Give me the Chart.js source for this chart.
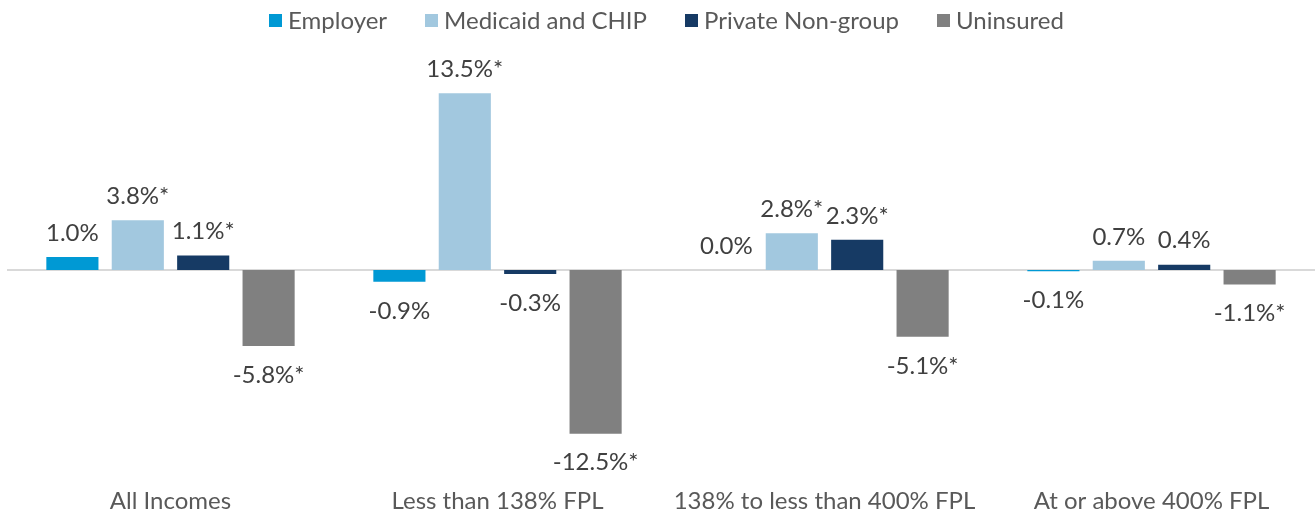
<!DOCTYPE html>
<html>
<head>
<meta charset="utf-8">
<script src="https://cdn.jsdelivr.net/npm/chart.js@4"></script>
<style>
  html, body { margin: 0; padding: 0; background: #fff; }
  #wrap { position: relative; width: 1315px; height: 512px; }
  #legend {
    position: absolute; top: 6px; left: 0; width: 1315px;
    display: flex; justify-content: center; gap: 38px;
    font-family: Lato, sans-serif; font-size: 24px; color: #595959;
    line-height: 28px; padding-left: 18px; box-sizing: border-box;
  }
  #legend span.item { display: flex; align-items: center; }
  #legend span.box { width: 13px; height: 13px; margin-right: 6px; display: inline-block; }
</style>
</head>
<body>
<div id="wrap">
  <div id="legend"></div>
  <canvas id="chart"></canvas>
</div>
<script>
// Data
const categories = ['All Incomes', 'Less than 138% FPL', '138% to less than 400% FPL', 'At or above 400% FPL'];
const seriesNames = ['Employer', 'Medicaid and CHIP', 'Private Non-group', 'Uninsured'];
const employer = [1.0, -0.9, 0.0, -0.1];
const medicaid = [3.8, 13.5, 2.8, 0.7];
const privateNonGroup = [1.1, -0.3, 2.3, 0.4];
const uninsured = [-5.8, -12.5, -5.1, -1.1];
// significance stars per series
const employerSig = [false, false, false, false];
const medicaidSig = [true, true, true, false];
const privateSig = [true, false, true, false];
const uninsuredSig = [true, true, true, true];

const colors = ['#0099d4', '#a2c8df', '#163a64', '#808080'];
const allValues = [employer, medicaid, privateNonGroup, uninsured];
const allSig = [employerSig, medicaidSig, privateSig, uninsuredSig];

// legend
const legendEl = document.getElementById('legend');
seriesNames.forEach((name, i) => {
  const item = document.createElement('span');
  item.className = 'item';
  item.innerHTML = `<span class="box" style="background:${colors[i]}"></span>${name}`;
  legendEl.appendChild(item);
});

const datasets = seriesNames.map((name, i) => ({
  label: name,
  data: allValues[i],
  sig: allSig[i],
  backgroundColor: colors[i],
  borderWidth: 0,
  barPercentage: 0.797,
  categoryPercentage: 0.8,
}));

// zero line + value labels
const labelPlugin = {
  id: 'valueLabels',
  beforeDatasetsDraw(chart) {
    const { ctx, chartArea, scales } = chart;
    const y0 = scales.y.getPixelForValue(0);
    ctx.save();
    ctx.strokeStyle = '#d9d9d9';
    ctx.lineWidth = 2;
    ctx.beginPath();
    ctx.moveTo(chartArea.left, y0);
    ctx.lineTo(chart.width, y0);
    ctx.stroke();
    ctx.restore();
  },
  afterDatasetsDraw(chart) {
    const { ctx } = chart;
    ctx.save();
    ctx.font = '24px Lato';
    ctx.fillStyle = '#404040';
    ctx.textAlign = 'center';
    chart.data.datasets.forEach((ds, i) => {
      chart.getDatasetMeta(i).data.forEach((bar, j) => {
        const v = ds.data[j];
        const txt = v.toFixed(1) + '%' + (ds.sig[j] ? '*' : '');
        if (v >= 0) {
          ctx.textBaseline = 'bottom';
          ctx.fillText(txt, bar.x, bar.y - 12);
        } else {
          ctx.textBaseline = 'top';
          ctx.fillText(txt, bar.x, bar.y + 17);
        }
      });
    });
    ctx.restore();
  }
};

new Chart(document.getElementById('chart'), {
  type: 'bar',
  data: { labels: categories, datasets: datasets },
  plugins: [labelPlugin],
  options: {
    responsive: true,
    maintainAspectRatio: false,
    animation: false,
    layout: { padding: { left: 7, right: -8, top: 73.5, bottom: 0 } },
    plugins: {
      legend: { display: false },
      tooltip: { enabled: false },
    },
    scales: {
      x: {
        grid: { display: false },
        border: { display: false },
        ticks: {
          font: { family: 'Lato', size: 24 },
          color: '#595959',
          padding: 12,
        },
        afterFit(scale) { scale.height = 45.5; },
      },
      y: {
        min: -15,
        max: 15,
        display: false,
      },
    },
  },
});
</script>
</body>
</html>
